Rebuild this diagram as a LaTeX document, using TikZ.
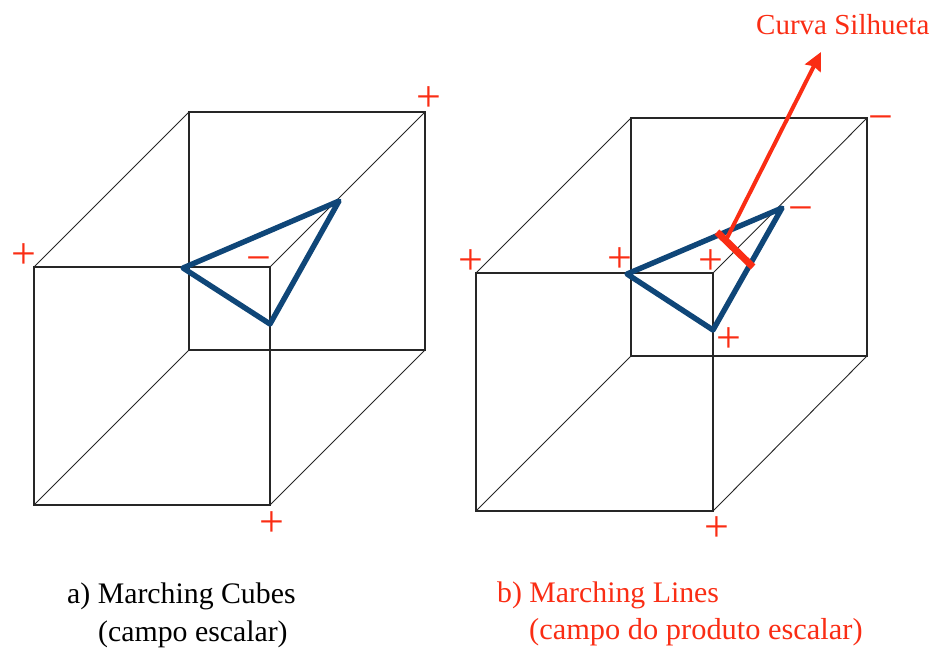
\documentclass[tikz,border=0pt]{standalone}
\usepackage{fontspec}
\usetikzlibrary{arrows.meta}
\setmainfont{Liberation Serif}
\definecolor{sred}{RGB}{250,45,20}
\definecolor{sblue}{RGB}{15,70,120}
\tikzset{
 x=1pt,y=-1pt,
 edge/.style={black!85,line width=1.3pt},
 diag/.style={black!85,line width=0.9pt},
 tri/.style={sblue,line width=5.4pt,line join=round,line cap=round},
 sign/.style={text=sred,font=\fontsize{44}{44}\selectfont,inner sep=0pt},
 lab/.style={anchor=west,inner sep=0pt,font=\fontsize{29.8}{34}\selectfont},
}
\begin{document}
\begin{tikzpicture}
\useasboundingbox (0,0) rectangle (933,647);
% cube a
\coordinate (a1) at (34,267); \coordinate (a2) at (270,267);
\coordinate (a3) at (270,505); \coordinate (a4) at (34,505);
\coordinate (a5) at (189,112); \coordinate (a6) at (425,112);
\coordinate (a7) at (425,350); \coordinate (a8) at (189,350);
\draw[edge] (a1)--(a2)--(a3)--(a4)--cycle;
\draw[edge] (a5)--(a6)--(a7)--(a8)--cycle;
\draw[diag] (a1)--(a5) (a2)--(a6) (a3)--(a7) (a4)--(a8);
\coordinate (ta) at (183,268); \coordinate (tb) at (339,201); \coordinate (tc) at (270,324);
\draw[tri] (ta)--(tb)--(tc)--cycle;
\node[sign] (pa1) at (24,256) {+};
\node[sign] (pa2) at (429,99) {+};
\node[sign] (pa3) at (272,524) {+};
\node[sign] (ma1) at (259,265) {−};
\node[lab] (la1) at (67,596) {a) Marching Cubes};
\node[lab] (la2) at (98,634) {(campo escalar)};
% cube b
\coordinate (b1) at (476,273); \coordinate (b2) at (713,273);
\coordinate (b3) at (713,511); \coordinate (b4) at (476,511);
\coordinate (b5) at (631,118); \coordinate (b6) at (867,118);
\coordinate (b7) at (867,356); \coordinate (b8) at (631,356);
\draw[edge] (b1)--(b2)--(b3)--(b4)--cycle;
\draw[edge] (b5)--(b6)--(b7)--(b8)--cycle;
\draw[diag] (b1)--(b5) (b2)--(b6) (b3)--(b7) (b4)--(b8);
\coordinate (td) at (627,274); \coordinate (te) at (782,208); \coordinate (tf) at (713,330);
\draw[tri] (td)--(te)--(tf)--cycle;
\coordinate (sa) at (717,232); \coordinate (sb) at (753,267); \coordinate (sm) at (726,240);
\coordinate (tip) at (821,52);
\draw[sred,line width=7pt] (sa)--(sb);
\draw[sred,line width=4pt,-{Stealth[length=18pt,width=17pt,inset=2pt]}] (sm)--(tip);
\node[sign] (pb1) at (471,262) {+};
\node[sign] (pb2) at (620,260) {+};
\node[sign] (pb3) at (711,262) {+};
\node[sign] (pb4) at (729,340) {+};
\node[sign] (pb5) at (717,529) {+};
\node[sign] (mb1) at (881,124) {−};
\node[sign] (mb2) at (801,215) {−};
\node[lab,text=sred,font=\fontsize{29}{34}\selectfont] (t) at (756,25) {Curva Silhueta};
\node[lab,text=sred] (lb1) at (497,595) {b) Marching Lines};
\node[lab,text=sred,font=\fontsize{30.4}{34}\selectfont] (lb2) at (529,632) {(campo do produto escalar)};
\end{tikzpicture}
\end{document}
